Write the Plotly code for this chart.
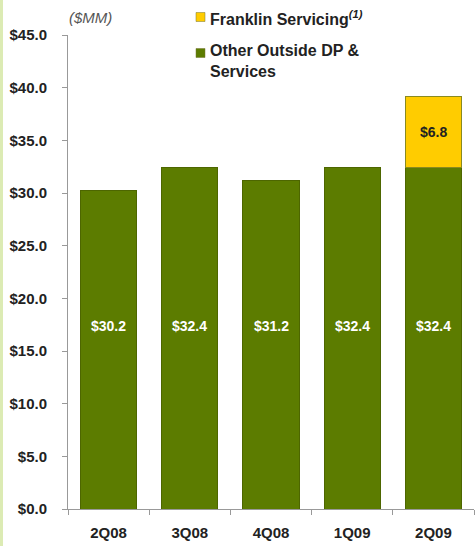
import plotly.graph_objects as go

# Quarterly revenue, $MM
quarters = ["2Q08", "3Q08", "4Q08", "1Q09", "2Q09"]
other_outside = [30.2, 32.4, 31.2, 32.4, 32.4]
franklin = [None, None, None, None, 6.8]
y_ticks = [0, 5, 10, 15, 20, 25, 30, 35, 40, 45]

W, H = 475, 546
ML, MR, MT, MB = 68, 1, 35, 37
PW, PH = W - ML - MR, H - MT - MB

GREEN = "#5c7c00"
YELLOW = "#ffcc00"
FONT = "Liberation Sans, Arial, sans-serif"


def px_x(p):
    return (p - ML) / PW


def px_y(p):
    return 1 - (p - MT) / PH


fig = go.Figure()
fig.add_bar(
    x=quarters, y=other_outside, name="Other Outside DP &<br>Services",
    marker=dict(color=GREEN, line=dict(color="#4d6600", width=1)),
    width=0.69,
)
fig.add_bar(
    x=quarters, y=franklin, name="Franklin Servicing",
    marker=dict(color=YELLOW, line=dict(color="#8a8a20", width=1)),
    width=0.69,
)

annotations = []
# white value labels inside the green bars
for q, v in zip(quarters, other_outside):
    annotations.append(dict(
        x=q, y=17.4, xref="x", yref="y", text=f"${v:.1f}", showarrow=False,
        font=dict(family=FONT, size=14, color="white", weight="bold"),
    ))
# labels on the stacked segments
for q, base, v in zip(quarters, other_outside, franklin):
    if v is not None:
        annotations.append(dict(
            x=q, y=base + v / 2, xref="x", yref="y", text=f"${v:.1f}",
            showarrow=False,
            font=dict(family=FONT, size=14, color="#222222", weight="bold"),
        ))

# unit note
annotations.append(dict(
    x=px_x(67), y=px_y(17), xref="paper", yref="paper", xanchor="left",
    yanchor="middle", text="<i>($MM)</i>", showarrow=False,
    font=dict(family=FONT, size=15, color="#555555"),
))

# legend
legend_items = [
    ("Franklin Servicing<sup><i>(1)</i></sup>", YELLOW, 17, 18),
    ("Other Outside DP &<br>Services", GREEN, 53, 61),
]
shapes = []
for label, color, sw_y, txt_y in legend_items:
    shapes.append(dict(
        type="rect", xref="paper", yref="paper",
        x0=px_x(196), x1=px_x(205), y0=px_y(sw_y - 4.5), y1=px_y(sw_y + 4.5),
        fillcolor=color, line=dict(color="#777733", width=0.5),
    ))
    annotations.append(dict(
        x=px_x(208), y=px_y(txt_y), xref="paper", yref="paper",
        xanchor="left", yanchor="middle", align="left", text=label,
        showarrow=False,
        font=dict(family=FONT, size=16, color="#222222", weight="bold"),
    ))

# pale green stripe on the left edge
shapes.append(dict(
    type="rect", xref="paper", yref="paper",
    x0=px_x(0), x1=px_x(3), y0=px_y(H), y1=px_y(0),
    fillcolor="#dcebb4", line=dict(width=0), layer="below",
))

fig.update_layout(
    width=W, height=H,
    margin=dict(l=ML, r=MR, t=MT, b=MB),
    barmode="stack",
    showlegend=False,
    plot_bgcolor="white", paper_bgcolor="white",
    font=dict(family=FONT, size=15, color="#222222"),
    annotations=annotations,
    shapes=shapes,
)
fig.update_yaxes(
    range=[0, 45], tickvals=y_ticks,
    ticktext=[f"${t:.1f}" for t in y_ticks],
    showgrid=False, zeroline=False,
    showline=True, linecolor="#999999", linewidth=1,
    ticks="outside", ticklen=5, tickcolor="#999999",
    tickfont=dict(family=FONT, size=15, color="#222222", weight="bold"),
    ticklabelstandoff=12,
)
fig.update_xaxes(
    showgrid=False, showline=True, linecolor="#999999", linewidth=1,
    ticks="outside", ticklen=5, tickcolor="#999999", tickson="boundaries",
    tickfont=dict(family=FONT, size=15, color="#222222", weight="bold"),
    ticklabelstandoff=10,
)

fig.write_html("out.html")
